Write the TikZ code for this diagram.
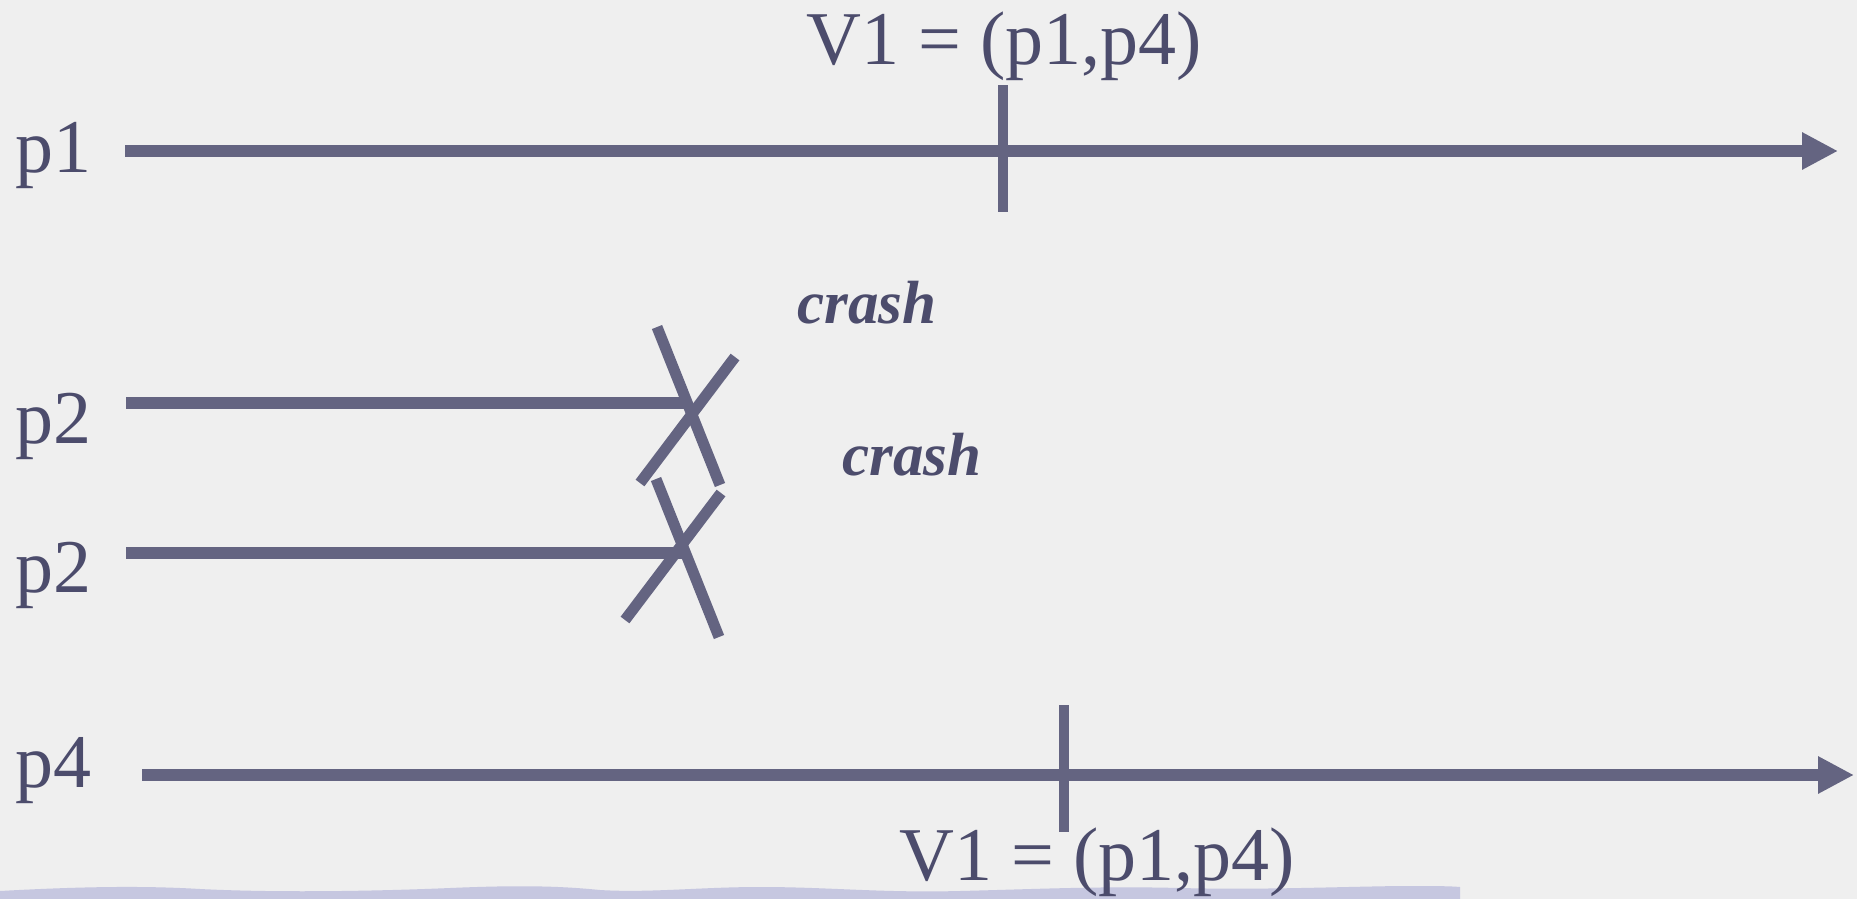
\documentclass[tikz,border=0pt]{standalone}
\usepackage{fontspec}
\setmainfont{Liberation Serif}
\usetikzlibrary{arrows.meta}
\definecolor{bgc}{HTML}{EFEFEF}
\definecolor{linec}{HTML}{646481}
\definecolor{textc}{HTML}{4C4C6C}
\definecolor{stripc}{HTML}{C6C7E0}
\tikzset{
  lbl/.style={inner sep=0pt, text=textc, font=\fontsize{76}{90}\selectfont},
  crashlbl/.style={inner sep=0pt, text=textc, font=\fontsize{61}{72}\selectfont\bfseries\itshape},
  timeline/.style={draw=linec, line width=12pt},
  arrowline/.style={timeline, -{Triangle[length=36pt,width=35pt]}},
  tick/.style={draw=linec, line width=10pt},
  crossline/.style={draw=linec, line width=11pt},
}
\begin{document}
\begin{tikzpicture}[x=1pt,y=-1pt]
\fill[bgc] (0,0) rectangle (1857,899);
\useasboundingbox (0,0) rectangle (1857,899);
% decorative strip at bottom
\fill[stripc] (0,899) -- (0,891) .. controls (90,886) and (150,886) .. (200,889)
  .. controls (280,893) and (380,891) .. (450,888)
  .. controls (520,885) and (560,886) .. (600,890)
  .. controls (650,893) and (700,887) .. (760,887)
  .. controls (830,887) and (880,893) .. (960,891)
  .. controls (1040,889) and (1100,886) .. (1180,888)
  .. controls (1260,890) and (1330,887) .. (1400,886)
  .. controls (1430,886) and (1450,886) .. (1460,887) -- (1460,899) -- cycle;

% labels
\node[lbl, anchor=base west] (p1) at (15,172) {p1};
\node[lbl, anchor=base west] (p2a) at (15,443) {p2};
\node[lbl, anchor=base west] (p2b) at (15,592) {p2};
\node[lbl, anchor=base west] (p4) at (15,787) {p4};
\node[lbl, anchor=base] (v1top) at (1004,64) {V1 = (p1,p4)};
\node[lbl, anchor=base] (v1bot) at (1097,880) {V1 = (p1,p4)};
\node[crashlbl, anchor=base] (crash1) at (867,323) {crash};
\node[crashlbl, anchor=base] (crash2) at (912,475) {crash};

% coordinates
\coordinate (p1s) at (125,151);
\coordinate (p1e) at (1838,151);
\coordinate (t1a) at (1003,85);
\coordinate (t1b) at (1003,212);
\coordinate (p2as) at (126,402.5);
\coordinate (x1) at (688,402.5);
\coordinate (x1a1) at (657,327);
\coordinate (x1a2) at (720,485);
\coordinate (x1b1) at (735,357);
\coordinate (x1b2) at (640,483);
\coordinate (p2bs) at (126,553);
\coordinate (x2) at (682,553);
\coordinate (x2a1) at (656,479);
\coordinate (x2a2) at (719,637);
\coordinate (x2b1) at (721,493);
\coordinate (x2b2) at (625,620);
\coordinate (p4s) at (142,775);
\coordinate (p4e) at (1854,775);
\coordinate (t4a) at (1064,705);
\coordinate (t4b) at (1064,832);

% timelines
\draw[arrowline] (p1s) -- (p1e);
\draw[tick] (t1a) -- (t1b);
\draw[timeline] (p2as) -- (x1);
\draw[crossline] (x1a1) -- (x1a2);
\draw[crossline] (x1b1) -- (x1b2);
\draw[timeline] (p2bs) -- (x2);
\draw[crossline] (x2a1) -- (x2a2);
\draw[crossline] (x2b1) -- (x2b2);
\draw[arrowline] (p4s) -- (p4e);
\draw[tick] (t4a) -- (t4b);
\end{tikzpicture}
\end{document}
